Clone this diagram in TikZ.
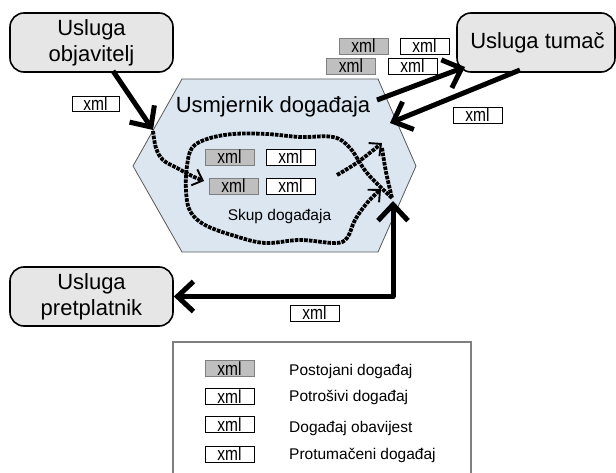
\documentclass[tikz,border=0pt]{standalone}
\usepackage{fontspec}
\usepackage{graphicx}
\setmainfont{Liberation Sans}
\usetikzlibrary{arrows.meta}
\definecolor{svcgray}{HTML}{E6E6E6}
\definecolor{keepgray}{HTML}{BFBFBF}
\definecolor{edgegray}{HTML}{7F7F7F}
\definecolor{routerblue}{HTML}{DCE6F1}
\definecolor{routeredge}{HTML}{595959}
% tall narrow lettering used inside the message tags
\newcommand{\xmltag}{\scalebox{1}[1.22]{xml}}
\begin{document}
\begin{tikzpicture}[x=1pt,y=-1pt,
  service/.style={draw=black, line width=1.6pt, fill=svcgray, rounded corners=14pt,
    minimum width=163pt, minimum height=59pt, inner sep=0pt, align=center,
    font=\fontsize{22}{26}\selectfont},
  xmlbox/.style={line width=0.8pt, minimum width=49pt, minimum height=16pt,
    inner sep=0pt, font=\fontsize{15.5}{16}\selectfont},
  keep/.style={xmlbox, fill=keepgray, draw=edgegray},
  consume/.style={xmlbox, fill=white, draw=black},
  legendtext/.style={anchor=base west, inner sep=0pt, font=\fontsize{15.5}{16}\selectfont},
  flow/.style={line width=5pt, line join=round,
    -{Straight Barb[length=16pt,width=30pt]}},
  eventpath/.style={line width=3.8pt, dash pattern=on 3.6pt off 1.1pt},
  eventtip/.style={-{Straight Barb[length=9pt,width=17pt,line width=1.9pt]}}
]
\useasboundingbox (0,0) rectangle (616,473);
\clip (0,0) rectangle (616,473);

% event router
\coordinate (hexNW) at (182,79);
\coordinate (hexNE) at (378,79);
\coordinate (hexE)  at (416,166);
\coordinate (hexSE) at (378,252);
\coordinate (hexSW) at (182,252);
\coordinate (hexW)  at (133,166);
\draw[fill=routerblue, draw=routeredge, line width=0.8pt]
  (hexNW) -- (hexNE) -- (hexE) -- (hexSE) -- (hexSW) -- (hexW) -- cycle;
\node[anchor=base, inner sep=0pt, font=\fontsize{22}{24}\selectfont] (routerTitle) at (273,113) {Usmjernik događaja};
\node[anchor=base, inner sep=0pt, font=\fontsize{15.5}{16}\selectfont] (poolTitle) at (279.5,221) {Skup događaja};

% events in the pool
\node[keep]    (p1) at (229.5,157) {\xmltag};
\node[consume] (p2) at (290.5,157) {\xmltag};
\node[keep]    (p3) at (233.5,186) {\xmltag};
\node[consume] (p4) at (290.5,186) {\xmltag};

% services
\node[service] (pub)  at (91.5,42.5) {Usluga\\objavitelj};
\node[service, minimum width=158pt] (interp) at (536,42.5) {\hspace*{3pt}Usluga tumač};
\node[service] (sub)  at (91.5,296.5) {Usluga\\pretplatnik};

% messages on the connectors
\node[consume, minimum width=47pt, minimum height=15pt] (m1) at (95.5,104) {\xmltag};
\node[keep]    (m2) at (363.5,46) {\xmltag};
\node[consume] (m3) at (424.5,46) {\xmltag};
\node[keep]    (m4) at (351,66) {\xmltag};
\node[consume] (m5) at (412.5,66) {\xmltag};
\node[consume] (m6) at (477.5,115) {\xmltag};
\node[consume] (m7) at (314.5,313) {\xmltag};

% connector ends
\coordinate (pubOut)     at (113,71);
\coordinate (routerIn)   at (153,130);
\coordinate (routerOut)  at (377,100);
\coordinate (interpIn)   at (465,67);
\coordinate (interpOut)  at (520,70);
\coordinate (routerBack) at (390,123);
\coordinate (poolTip)    at (393,201);

\draw[flow] (pubOut) -- (routerIn);
\draw[flow] (routerOut) -- (interpIn);
\draw[flow] (interpOut) -- (routerBack);
\draw[flow, {Straight Barb[length=16pt,width=30pt]}-{Straight Barb[length=16pt,width=30pt]}]
  (poolTip) |- (sub.east);

% event movements inside the router
\draw[eventpath, eventtip] plot[smooth, tension=0.6] coordinates
  {(153,131) (156,148) (163,160) (177,168) (192,176) (204,181)};
\draw[eventpath, eventtip] plot[smooth, tension=0.6] coordinates
  {(392,198) (367,173) (350,148) (333,137) (300,137) (267,134) (233,134)
   (207,139) (192,148) (187,166) (186,190) (190,211) (205,225) (235,236)
   (265,243) (300,240) (335,243) (347,238) (355,220) (367,203) (381,189)};
\draw[eventpath, eventtip] plot[smooth, tension=0.6] coordinates
  {(337,175) (358,162) (382,143)};
\draw[eventpath] plot[smooth, tension=0.6] coordinates
  {(382,148) (386,172) (392,198)};

% legend
\draw[draw=edgegray, line width=1.2pt] (173,490) -- (173,342) -- (471,342) -- (471,490);
\node[keep]    (k1) at (229.5,368.5) {\xmltag};
\node[consume] (k2) at (229.5,396.5) {\xmltag};
\node[consume] (k3) at (229.5,424.5) {\xmltag};
\node[consume] (k4) at (229.5,454)   {\xmltag};
\node[legendtext] (t1) at (289,375) {Postojani događaj};
\node[legendtext] (t2) at (289,401) {Potrošivi događaj};
\node[legendtext] (t3) at (289,432) {Događaj obavijest};
\node[legendtext] (t4) at (289,459) {Protumačeni događaj};
\end{tikzpicture}
\end{document}
